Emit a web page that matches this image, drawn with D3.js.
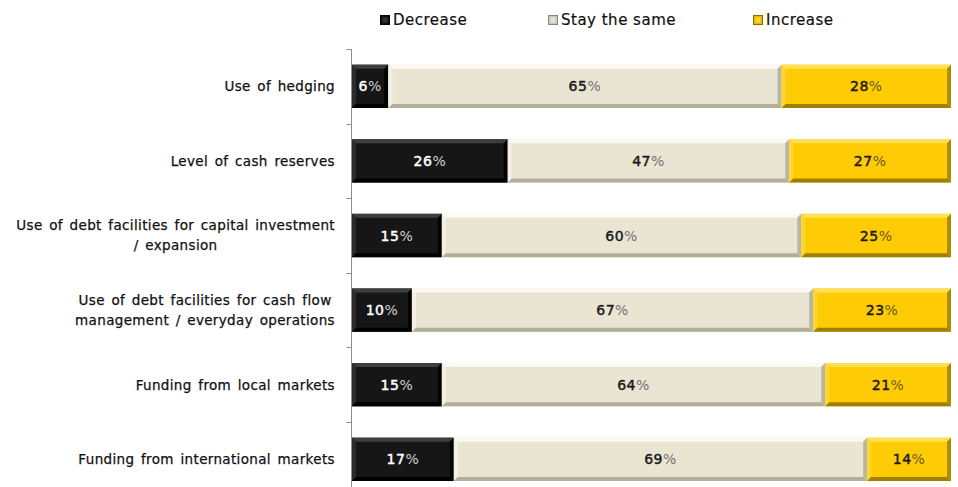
<!DOCTYPE html>
<html>
<head>
<meta charset="utf-8">
<script src="https://cdn.jsdelivr.net/npm/d3@7"></script>
<style>
  html, body { margin: 0; padding: 0; background: #fff; }
  svg { display: block; }
  text { font-family: "DejaVu Sans", sans-serif; }
</style>
</head>
<body>
<svg id="chart" width="958" height="487"></svg>
<script>
// Survey responses: expected change per funding / treasury practice
const categories = [
  ["Use of hedging"],
  ["Level of cash reserves"],
  ["Use of debt facilities for capital investment", "/ expansion"],
  ["Use of debt facilities for cash flow", "management / everyday operations"],
  ["Funding from local markets"],
  ["Funding from international markets"]
];
const seriesNames = ["Decrease", "Stay the same", "Increase"];
const decrease    = [6, 26, 15, 10, 15, 17];
const stayTheSame = [65, 47, 60, 67, 64, 69];
const increase    = [28, 27, 25, 23, 21, 14];

const palette = {
  "Decrease":      { base: "#161616", light: "#3e3e3e", dark: "#000000", text: "#ffffff", pct: "#d0d0d0" },
  "Stay the same": { base: "#eae5d3", light: "#fbf9f2", dark: "#b3ae9a", text: "#1a1a1a", pct: "#707070" },
  "Increase":      { base: "#ffcb05", light: "#ffdf55", dark: "#a08000", text: "#1a1a1a", pct: "#6a5a10" }
};

const rows = categories.map((c, i) => ({
  key: i,
  label: c,
  "Decrease": decrease[i],
  "Stay the same": stayTheSame[i],
  "Increase": increase[i]
}));

// 100% stacked bar: each row is expanded to its own total
const stacked = d3.stack().keys(seriesNames).offset(d3.stackOffsetExpand)(rows);

const svg = d3.select("#chart");
const margin = { left: 352, right: 7, top: 49 };
const bandStep = 74.6;

const x = d3.scaleLinear().domain([0, 1]).range([margin.left, 958 - margin.right]);
const y = d3.scaleBand()
  .domain(rows.map(r => r.key))
  .range([margin.top, margin.top + bandStep * rows.length])
  .paddingInner(0.42).paddingOuter(0.21);

// Category axis on the left
const axisG = svg.append("g").attr("transform", `translate(${margin.left - 0.5},0)`);
axisG.append("line")
  .attr("y1", margin.top).attr("y2", margin.top + bandStep * rows.length)
  .attr("stroke", "#8c8c8c").attr("stroke-width", 1);
d3.range(rows.length + 1).forEach(i => {
  const yy = Math.round(margin.top + i * bandStep) + 0.5;
  axisG.append("line").attr("x1", -5).attr("x2", 0).attr("y1", yy).attr("y2", yy)
    .attr("stroke", "#8c8c8c");
});

// Category labels: block right-aligned, lines centred within the block
const labelG = svg.append("g");
const labelRight = 335;
rows.forEach(r => {
  const cy = y(r.key) + y.bandwidth() / 2;
  const n = r.label.length;
  const lh = 20;
  const texts = r.label.map((line, j) => labelG.append("text")
    .attr("y", cy + (j - (n - 1) / 2) * lh)
    .attr("dy", "0.36em")
    .attr("text-anchor", "middle")
    .attr("font-size", 13.5)
    .attr("fill", "#111")
    .attr("stroke", "#111").attr("stroke-width", 0.25)
    .attr("letter-spacing", 0.35)
    .attr("word-spacing", 2)
    .text(line));
  const widest = d3.max(texts, t => t.node().getComputedTextLength());
  texts.forEach(t => t.attr("x", labelRight - widest / 2));
});

// Bevelled bar segments
const bevel = 4;
const segG = svg.append("g");
const poly = pts => pts.map(p => p.join(",")).join(" ");
stacked.forEach(layer => {
  const col = palette[layer.key];
  layer.forEach((d, i) => {
    const x0 = x(d[0]), x1 = x(d[1]);
    const y0 = y(rows[i].key), h = y.bandwidth(), y1 = y0 + h;
    const w = x1 - x0;
    const g = segG.append("g");
    g.append("rect").attr("x", x0).attr("y", y0).attr("width", w).attr("height", h).attr("fill", col.base);
    const b = Math.min(bevel, w / 2);
    g.append("polygon").attr("points", poly([[x0, y0], [x1, y0], [x1 - b, y0 + b], [x0 + b, y0 + b]]))
      .attr("fill", col.light);
    g.append("polygon").attr("points", poly([[x0, y0], [x0 + b, y0 + b], [x0 + b, y1 - b], [x0, y1]]))
      .attr("fill", col.light).attr("opacity", 0.55);
    g.append("polygon").attr("points", poly([[x0, y1], [x0 + b, y1 - b], [x1 - b, y1 - b], [x1, y1]]))
      .attr("fill", col.dark);
    g.append("polygon").attr("points", poly([[x1, y0], [x1, y1], [x1 - b, y1 - b], [x1 - b, y0 + b]]))
      .attr("fill", col.dark).attr("opacity", 0.85);

    const v = rows[i][layer.key];
    const t = g.append("text")
      .attr("x", (x0 + x1) / 2)
      .attr("y", y0 + h / 2)
      .attr("dy", "0.36em")
      .attr("text-anchor", "middle")
      .attr("font-size", 14)
      .attr("letter-spacing", 0.5);
    t.append("tspan").attr("fill", col.text)
      .attr("stroke", col.text).attr("stroke-width", 0.45).text(v);
    t.append("tspan").attr("fill", col.pct).text("%");
  });
});

// Legend
const legendItems = [
  { key: "Decrease", x: 380 },
  { key: "Stay the same", x: 548 },
  { key: "Increase", x: 753 }
];
const legendSwatch = {
  "Decrease": { fill: "#111111", edge: "#000000", inner: "#333333" },
  "Stay the same": { fill: "#c9c6ba", edge: "#8a877c", inner: "#e6e3d8" },
  "Increase": { fill: "#e8b800", edge: "#8a6c00", inner: "#ffd633" }
};
const legG = svg.append("g");
legendItems.forEach(it => {
  const sw = legendSwatch[it.key];
  legG.append("rect").attr("x", it.x + 0.5).attr("y", 15.5).attr("width", 9).attr("height", 9)
    .attr("fill", sw.fill).attr("stroke", sw.edge).attr("stroke-width", 1);
  legG.append("rect").attr("x", it.x + 2.5).attr("y", 17.5).attr("width", 5).attr("height", 5)
    .attr("fill", sw.inner);
  legG.append("text").attr("x", it.x + 13).attr("y", 20).attr("dy", "0.36em")
    .attr("font-size", 15).attr("fill", "#111").attr("letter-spacing", 0.5)
    .attr("stroke", "#111").attr("stroke-width", 0.2)
    .text(it.key);
});
</script>
</body>
</html>
